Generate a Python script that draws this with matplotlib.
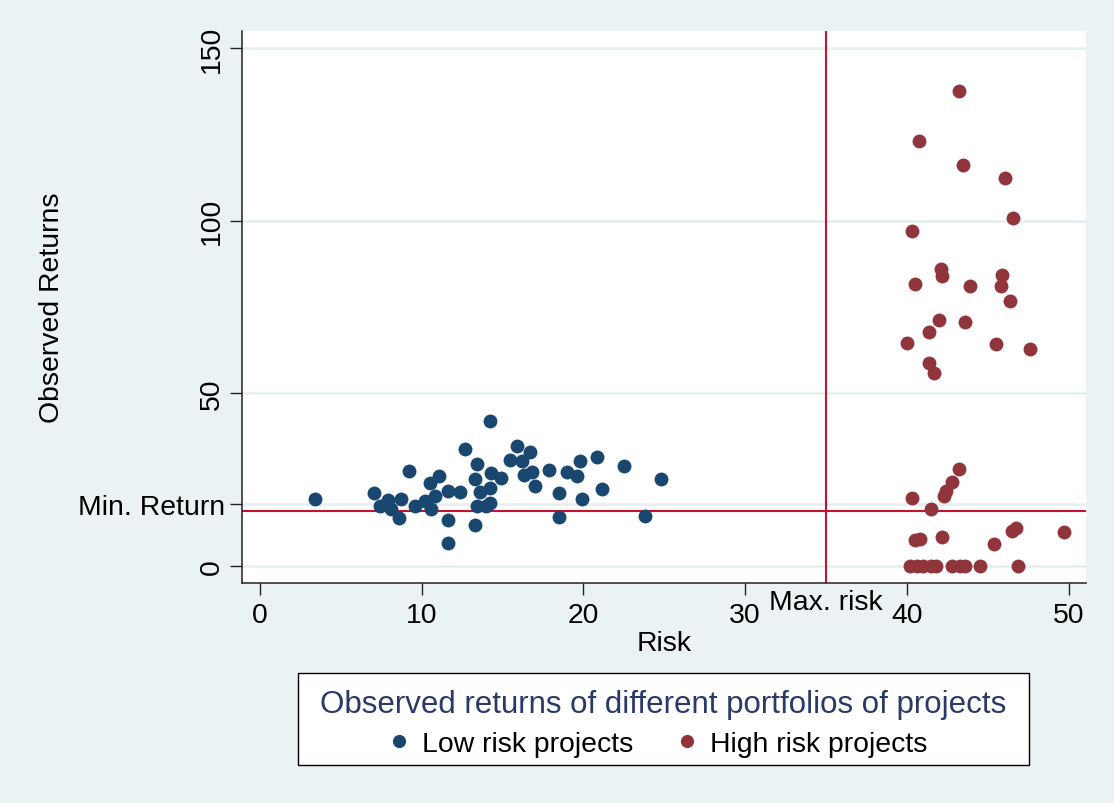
import matplotlib
matplotlib.use("Agg")
import matplotlib.pyplot as plt
from matplotlib.lines import Line2D
from matplotlib.patches import Rectangle

# ---- data ----
low_risk = [3.4, 7.05, 7.4, 7.9, 8.1, 8.6, 8.75, 9.2, 9.6, 10.2, 10.6, 10.5, 11.1, 10.8,
            11.6, 11.6, 11.6, 12.4, 12.7, 13.4, 13.3, 13.4, 13.3, 13.6, 14.0, 14.2, 14.2,
            14.3, 14.2, 14.9, 15.45, 15.9, 16.2, 16.7, 16.3, 16.8, 17.0, 17.9, 18.5, 18.5,
            19.0, 19.6, 19.8, 19.9, 20.85, 21.15, 22.5, 23.8, 24.8]
low_ret = [19.2, 21.1, 17.4, 19.0, 16.3, 13.8, 19.4, 27.5, 17.4, 18.7, 16.3, 24.0, 26.0, 20.2,
           13.2, 6.6, 21.6, 21.4, 33.7, 29.4, 25.2, 17.4, 11.9, 21.3, 17.2, 18.2, 22.6,
           27.0, 41.8, 25.5, 30.5, 34.7, 30.3, 32.9, 26.2, 27.1, 23.1, 27.6, 21.1, 14.2,
           27.1, 26.0, 30.3, 19.2, 31.6, 22.3, 28.9, 14.5, 25.0]

high_risk = [43.2, 40.75, 43.5, 46.05, 46.55, 40.3, 42.1, 42.2, 40.5, 43.9, 45.9, 45.8, 46.35,
             42.0, 43.6, 41.4, 40.0, 45.5, 47.6, 41.4, 41.65,
             43.2, 42.8, 42.4, 42.3, 40.3, 41.5, 40.5, 40.8, 42.2, 45.4, 46.5, 46.75, 49.7,
             40.2, 40.6, 41.0, 41.5, 41.8, 42.8, 43.3, 43.6, 44.5, 46.9]
high_ret = [137.4, 123.1, 116.1, 112.2, 100.8, 97.0, 86.0, 83.8, 81.7, 80.9, 84.1, 81.0, 76.8,
            71.3, 70.5, 67.8, 64.5, 64.2, 62.8, 58.7, 55.8,
            27.9, 24.2, 21.6, 20.2, 19.7, 16.3, 7.6, 7.8, 8.3, 6.4, 10.0, 10.8, 9.8,
            0, 0, 0, 0, 0, 0, 0, 0, 0, 0]

x_ticks = [0, 10, 20, 30, 40, 50]
y_ticks = [0, 18, 50, 100, 150]
y_tick_labels = ["0", "Min. Return", "50", "100", "150"]
max_risk = 35
min_return = 16
max_risk_label = "Max. risk"

legend_title = "Observed returns of different portfolios of projects"
series_names = ["Low risk projects", "High risk projects"]

# ---- style ----
BG = "#eaf2f3"
NAVY = "#1a476f"
MAROON = "#90353b"
RED = "#c4122f"
GRID = "#e6eff0"
FS = 20.4
TITLE_FS = 22.5

plt.rcParams["font.family"] = ["Liberation Sans", "DejaVu Sans"]

W, H = 1114, 804
fig = plt.figure(figsize=(W / 100, H / 100), dpi=100, facecolor=BG)
L, R, T, B = 241.7, 1086, 31.7, 584
ax = fig.add_axes([L / W, 1 - B / H, (R - L) / W, (B - T) / H])
ax.set_facecolor("white")

ax.set_xlim(-1.13, 51.08)
ax.set_ylim(-5.0, 155.0)

for s in ["top", "right"]:
    ax.spines[s].set_visible(False)
for s in ["left", "bottom"]:
    ax.spines[s].set_color("#222222")
    ax.spines[s].set_linewidth(1.1)

ax.set_yticks(y_ticks)
ax.set_yticklabels(y_tick_labels, fontsize=FS)
for lab, txt in zip(ax.get_yticklabels(), y_tick_labels):
    if txt.isdigit():
        lab.set_rotation(90)
        lab.set_va("center")
        lab.set_ha("right")
ax.set_xticks(x_ticks)
ax.set_xticklabels([str(v) for v in x_ticks], fontsize=FS)
ax.set_xticks([max_risk], [max_risk_label], minor=True)
ax.tick_params(axis="x", which="major", length=8.6, width=1.0, pad=4.8, colors="#222222",
               labelcolor="black")
ax.tick_params(axis="x", which="minor", length=0, pad=4.1, labelsize=FS, labelcolor="black")
ax.tick_params(axis="y", which="major", length=8.6, width=1.0, pad=3.4, colors="#222222",
               labelcolor="black")

ax.yaxis.grid(True, color=GRID, linewidth=1.9)
ax.set_axisbelow(True)

ax.axvline(max_risk, color=RED, linewidth=1.5, zorder=2)
ax.axhline(min_return, color=RED, linewidth=1.5, zorder=2)

ax.plot(low_risk, low_ret, "o", color=NAVY, markersize=10, markeredgewidth=0, zorder=3)
ax.plot(high_risk, high_ret, "o", color=MAROON, markersize=10, markeredgewidth=0, zorder=3)

fig.text(664 / W, 1 - 644.3 / H, "Risk", fontsize=FS, ha="center", va="center")
fig.text(52.3 / W, 1 - 308 / H, "Observed Returns", fontsize=FS, ha="center", va="center",
         rotation=90)

# legend frame and title
fig.patches.append(Rectangle((298 / W, 1 - 766 / H), (1029 - 298) / W, (766 - 674) / H,
                             transform=fig.transFigure, facecolor="white",
                             edgecolor="black", linewidth=1.0, zorder=1))
fig.text(663.5 / W, 1 - 712.7 / H, legend_title, fontsize=TITLE_FS, ha="center",
         va="baseline", color="#2a3a66", zorder=3)

handles = [Line2D([], [], ls="", marker="o", color=NAVY, markersize=9.5, markeredgewidth=0),
           Line2D([], [], ls="", marker="o", color=MAROON, markersize=9.5, markeredgewidth=0)]
leg = fig.legend(handles, series_names, loc="center",
                 bbox_to_anchor=(657.7 / W, 1 - 745 / H), ncol=2, fontsize=FS,
                 frameon=False, borderpad=0, handlelength=0.8,
                 handletextpad=0.42, columnspacing=1.5, borderaxespad=0)
leg.set_zorder(3)

fig.savefig("out.png", dpi=100, facecolor=BG)
